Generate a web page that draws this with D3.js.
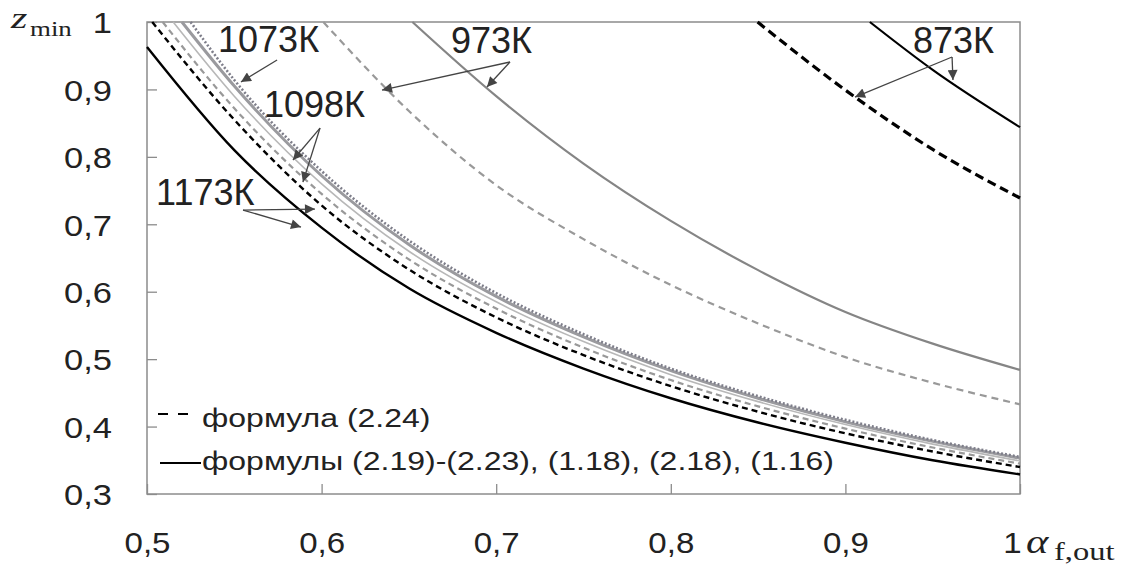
<!DOCTYPE html>
<html>
<head>
<meta charset="utf-8">
<script src="https://cdn.jsdelivr.net/npm/d3@7"></script>
<style>
  html, body { margin: 0; padding: 0; background: #fff; }
  svg { display: block; }
  .sans { font-family: "Liberation Sans", Arial, sans-serif; fill: #222; }
  .serif { font-family: "Liberation Serif", "Times New Roman", serif; fill: #222; }
</style>
</head>
<body>
<svg id="chart" width="1140" height="564"></svg>
<script>
// ---- data -------------------------------------------------------------
const xTicks = [0.5, 0.6, 0.7, 0.8, 0.9, 1];
const yTicks = [0.3, 0.4, 0.5, 0.6, 0.7, 0.8, 0.9, 1];

// 1173 K
const a1173sol = [0.5, 0.55, 0.6, 0.65, 0.7, 0.75, 0.8, 0.85, 0.9, 0.95, 1];
const z1173sol = [0.963, 0.81, 0.695, 0.605, 0.539, 0.486, 0.442, 0.406, 0.376, 0.350, 0.329];
const a1173dash = [0.503, 0.55, 0.6, 0.65, 0.7, 0.75, 0.8, 0.85, 0.9, 0.95, 1];
const z1173dash = [1, 0.855, 0.728, 0.633, 0.562, 0.506, 0.460, 0.422, 0.390, 0.363, 0.340];
// 1098 K
const a1098dash = [0.509, 0.55, 0.6, 0.65, 0.7, 0.75, 0.8, 0.85, 0.9, 0.95, 1];
const z1098dash = [1, 0.872, 0.745, 0.648, 0.575, 0.517, 0.469, 0.430, 0.397, 0.369, 0.345];
const a1098sol = [0.515, 0.55, 0.6, 0.65, 0.7, 0.75, 0.8, 0.85, 0.9, 0.95, 1];
const z1098sol = [1, 0.890, 0.760, 0.660, 0.585, 0.526, 0.477, 0.437, 0.403, 0.374, 0.349];
// 1073 K
const a1073sol = [0.52, 0.55, 0.6, 0.65, 0.7, 0.75, 0.8, 0.85, 0.9, 0.95, 1];
const z1073sol = [1, 0.905, 0.772, 0.670, 0.593, 0.533, 0.483, 0.442, 0.407, 0.378, 0.353];
const a1073dash = [0.525, 0.55, 0.6, 0.65, 0.7, 0.75, 0.8, 0.85, 0.9, 0.95, 1];
const z1073dash = [1, 0.914, 0.779, 0.676, 0.598, 0.537, 0.486, 0.445, 0.410, 0.380, 0.355];
// 973 K
const a973sol = [0.652, 0.7, 0.75, 0.8, 0.85, 0.9, 0.95, 1];
const z973sol = [1, 0.890, 0.790, 0.705, 0.632, 0.570, 0.523, 0.484];
const a973dash = [0.601, 0.65, 0.7, 0.75, 0.8, 0.85, 0.9, 0.95, 1];
const z973dash = [1, 0.868, 0.758, 0.678, 0.610, 0.553, 0.503, 0.465, 0.433];
// 873 K
const a873sol = [0.914, 0.95, 1];
const z873sol = [1, 0.929, 0.844];
const a873dash = [0.8497, 0.9, 0.95, 1];
const z873dash = [1, 0.899, 0.811, 0.739];

// temperature labels with their leader arrows (data units)
const labelText = ["1073К", "1098К", "1173К", "973К", "873К"];
const labelPos = [[0.5407, 0.9555], [0.567, 0.859], [0.5052, 0.7285], [0.6741, 0.954], [0.9387, 0.954]];
const arrowFrom = [[0.5745, 0.9436], [0.5991, 0.8427], [0.555, 0.7211], [0.7079, 0.9407], [0.9611, 0.9481]];
const arrowTips = [
  [[0.5538, 0.911]],
  [[0.5836, 0.7953], [0.5893, 0.7626]],
  [[0.5962, 0.7226], [0.5882, 0.6958]],
  [[0.6346, 0.8991], [0.6947, 0.9036]],
  [[0.9055, 0.8887], [0.9616, 0.9139]]
];

const legendLabels = ["формула (2.24)", "формулы (2.19)-(2.23), (1.18), (2.18), (1.16)"];

// ---- layout -----------------------------------------------------------
const plot = { left: 147, top: 22, right: 1020, bottom: 494 };
const svg = d3.select("#chart");

const x = d3.scaleLinear().domain([0.5, 1]).range([plot.left, plot.right]);
const y = d3.scaleLinear().domain([0.3, 1]).range([plot.bottom, plot.top]);
const fmt = v => (v === 1 ? "1" : d3.format(".1f")(v).replace(".", ","));

// ---- axes (ticks point inward) ----------------------------------------
const axisColor = "#8c8c8c";

const gx = svg.append("g")
  .attr("transform", `translate(0,${plot.bottom})`)
  .call(d3.axisBottom(x).tickValues(xTicks).tickSize(-10).tickFormat(fmt));
gx.select(".domain").remove();
gx.selectAll(".tick line").attr("stroke", axisColor).attr("stroke-width", 1.3);
gx.selectAll(".tick text")
  .attr("class", "sans").attr("font-size", 29)
  .attr("x", 0).attr("y", 0).attr("dy", 0)
  .attr("text-anchor", "middle")
  .attr("transform", d => `translate(${d === 1 ? -8 : 0},59) scale(1.14,1)`);

const gy = svg.append("g")
  .attr("transform", `translate(${plot.left},0)`)
  .call(d3.axisLeft(y).tickValues(yTicks).tickSize(-10).tickFormat(fmt));
gy.select(".domain").remove();
gy.selectAll(".tick line").attr("stroke", axisColor).attr("stroke-width", 1.3);
gy.selectAll(".tick text")
  .attr("class", "sans").attr("font-size", 30)
  .attr("x", 0).attr("dy", "0.36em")
  .attr("text-anchor", "end")
  .attr("transform", "translate(-35,0) scale(1.15,1)");

// plot frame
svg.append("rect")
  .attr("x", plot.left).attr("y", plot.top)
  .attr("width", plot.right - plot.left).attr("height", plot.bottom - plot.top)
  .attr("fill", "none").attr("stroke", axisColor).attr("stroke-width", 1.5);

// ---- curves -----------------------------------------------------------
const line = d3.line().x(d => x(d[0])).y(d => y(d[1])).curve(d3.curveMonotoneX);
const pts = (a, z) => a.map((v, i) => [v, z[i]]);

const series = [
  { a: a873dash, z: z873dash, color: "#000", w: 3.2, dash: "9,5" },
  { a: a873sol, z: z873sol, color: "#000", w: 2.2, dash: null },
  { a: a973dash, z: z973dash, color: "#999", w: 2.2, dash: "7,5" },
  { a: a973sol, z: z973sol, color: "#858585", w: 2.2, dash: null },
  { a: a1173sol, z: z1173sol, color: "#000", w: 2.4, dash: null },
  { a: a1173dash, z: z1173dash, color: "#000", w: 2.4, dash: "6,4" },
  { a: a1098dash, z: z1098dash, color: "#999", w: 2.2, dash: "6,4" },
  { a: a1098sol, z: z1098sol, color: "#b8b8b8", w: 1.6, dash: null },
  { a: a1073sol, z: z1073sol, color: "#9a9a9e", w: 3, dash: null },
  { a: a1073dash, z: z1073dash, color: "#7e7e8a", w: 2.6, dash: "2,2" }
];

svg.append("g").selectAll("path").data(series).join("path")
  .attr("d", s => line(pts(s.a, s.z)))
  .attr("fill", "none")
  .attr("stroke", s => s.color)
  .attr("stroke-width", s => s.w)
  .attr("stroke-dasharray", s => s.dash);

// ---- temperature labels and arrows ------------------------------------
const defs = svg.append("defs");
defs.append("marker")
  .attr("id", "head").attr("viewBox", "0 0 10 10")
  .attr("refX", 10).attr("refY", 5)
  .attr("markerUnits", "userSpaceOnUse")
  .attr("markerWidth", 13).attr("markerHeight", 10)
  .attr("orient", "auto")
  .append("path").attr("d", "M0,0 L10,5 L0,10 Z").attr("fill", "#444");

const ann = svg.append("g");
labelText.forEach((t, i) => {
  ann.append("text").attr("class", "sans")
    .attr("x", x(labelPos[i][0])).attr("y", y(labelPos[i][1]))
    .attr("font-size", 36).text(t);
  arrowTips[i].forEach(tip => {
    ann.append("line")
      .attr("x1", x(arrowFrom[i][0])).attr("y1", y(arrowFrom[i][1]))
      .attr("x2", x(tip[0])).attr("y2", y(tip[1]))
      .attr("stroke", "#444").attr("stroke-width", 1.3)
      .attr("marker-end", "url(#head)");
  });
});

// ---- legend -----------------------------------------------------------
const leg = svg.append("g");
leg.append("line").attr("x1", 158).attr("x2", 190).attr("y1", 414).attr("y2", 414)
  .attr("stroke", "#000").attr("stroke-width", 2).attr("stroke-dasharray", "10,10");
leg.append("line").attr("x1", 160).attr("x2", 201).attr("y1", 463).attr("y2", 463)
  .attr("stroke", "#000").attr("stroke-width", 2);
legendLabels.forEach((t, i) => {
  leg.append("text").attr("class", "sans")
    .attr("font-size", 25)
    .attr("transform", `translate(202,${427 + i * 43}) scale(1.28,1)`)
    .text(t);
});

// ---- axis titles ------------------------------------------------------
const zt = svg.append("g");
zt.append("text").attr("class", "serif").attr("font-style", "italic")
  .attr("font-size", 30).attr("transform", "translate(11,28) scale(1.4,1)").text("z");
zt.append("text").attr("class", "serif")
  .attr("font-size", 21).attr("transform", "translate(30,36) scale(1.28,1)").text("min");

const at = svg.append("g");
at.append("text").attr("class", "serif").attr("font-style", "italic")
  .attr("font-size", 34).attr("transform", "translate(1026,553) scale(1.25,1)").text("α");
at.append("text").attr("class", "serif")
  .attr("font-size", 26).attr("transform", "translate(1054,560) scale(1.25,1)").text("f,out");
</script>
</body>
</html>
